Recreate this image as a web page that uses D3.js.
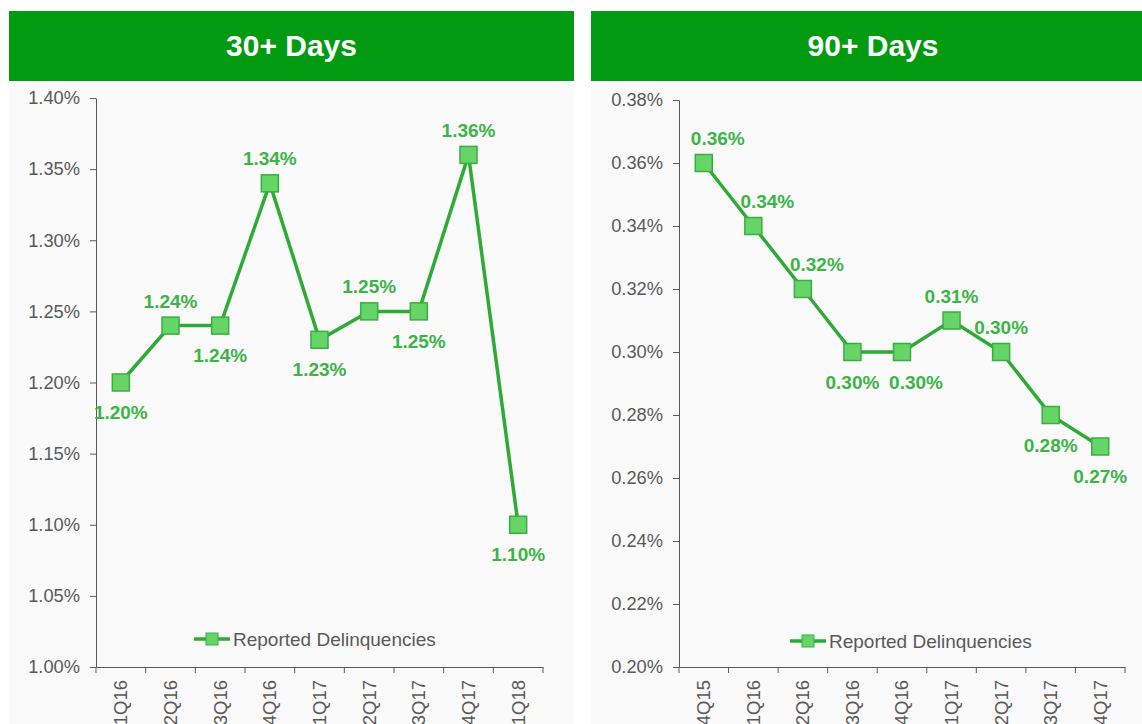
<!DOCTYPE html>
<html><head><meta charset="utf-8">
<script src="https://cdn.jsdelivr.net/npm/d3@7"></script>
<style>
html,body{margin:0;padding:0;background:#fff;overflow:hidden}
text{font-family:"Liberation Sans",Arial,sans-serif}
</style></head>
<body>
<svg id="c" width="1142" height="724"></svg>
<script>
const leftTitle = "30+ Days";
const leftCategories = ["1Q16","2Q16","3Q16","4Q16","1Q17","2Q17","3Q17","4Q17","1Q18"];
const leftValues = [1.20,1.24,1.24,1.34,1.23,1.25,1.25,1.36,1.10];
const leftLabelPos = ["below","above","below","above","below","above","below","above","below"];
const leftTicks = [1.00,1.05,1.10,1.15,1.20,1.25,1.30,1.35,1.40];

const rightTitle = "90+ Days";
const rightCategories = ["4Q15","1Q16","2Q16","3Q16","4Q16","1Q17","2Q17","3Q17","4Q17"];
const rightValues = [0.36,0.34,0.32,0.30,0.30,0.31,0.30,0.28,0.27];
const rightLabelPos = ["above-right","above-right","above-right","below","below-right","above","above","below","below"];
const rightTicks = [0.20,0.22,0.24,0.26,0.28,0.30,0.32,0.34,0.36,0.38];

const seriesName = "Reported Delinquencies";

const svg = d3.select("#c");
const GRAY = "#595959";
const LINE = "#2eaa36";
const MFILL = "#66d466";
const MSTROKE = "#36b042";
const LBL = "#3cb446";
const HEAD = "#019a10";

function panel(cfg){
  const g = svg.append("g");
  g.append("rect").attr("x",cfg.px).attr("y",11).attr("width",cfg.pw).attr("height",724-11).attr("fill","#fafafa");
  g.append("rect").attr("x",cfg.px).attr("y",11).attr("width",cfg.pw).attr("height",70).attr("fill",HEAD);
  g.append("text").attr("x",cfg.px+cfg.pw/2).attr("y",56).attr("text-anchor","middle")
    .attr("fill","#fff").attr("font-size",30).attr("font-weight","bold").text(cfg.title);

  const x = d3.scaleBand().domain(cfg.cats).range([cfg.x0,cfg.x1]).paddingInner(0).paddingOuter(0);
  const y = d3.scaleLinear().domain([cfg.ticks[0],cfg.ticks[cfg.ticks.length-1]]).range([cfg.y0,cfg.y1]);

  const ya = g.append("g").attr("transform",`translate(${cfg.x0},0)`)
    .call(d3.axisLeft(y).tickValues(cfg.ticks).tickSize(6).tickSizeOuter(0).tickPadding(10).tickFormat(d=>d.toFixed(2)+"%"));
  ya.select(".domain").attr("stroke",GRAY);
  ya.selectAll(".tick line").attr("stroke",GRAY);
  ya.selectAll(".tick text").attr("fill",GRAY).attr("font-size",18.3).attr("font-family","Liberation Sans, Arial, sans-serif");

  const xa = g.append("g").attr("transform",`translate(0,${cfg.y0})`)
    .call(d3.axisBottom(x).tickSize(0).tickSizeOuter(0).tickPadding(0));
  xa.select(".domain").attr("stroke",GRAY);
  xa.selectAll(".tick text").attr("fill",GRAY).attr("font-size",18.5)
    .attr("font-family","Liberation Sans, Arial, sans-serif")
    .attr("text-anchor","end").attr("dy","0.35em")
    .attr("transform","translate(0,13) rotate(-90)").attr("y",0).attr("x",0);
  const bounds = cfg.cats.map(c=>x(c)).concat([x(cfg.cats[cfg.cats.length-1])+x.bandwidth()]);
  xa.selectAll("line.bt").data(bounds).enter().append("line").attr("class","bt")
    .attr("x1",d=>d).attr("x2",d=>d).attr("y1",0).attr("y2",6).attr("stroke",GRAY);

  const cx = c => x(c)+x.bandwidth()/2;
  const pts = cfg.cats.map((c,i)=>({c, v:cfg.vals[i], pos:cfg.pos[i]}));

  g.append("path").datum(pts)
    .attr("d", d3.line().x(d=>cx(d.c)).y(d=>y(d.v)))
    .attr("fill","none").attr("stroke",LINE).attr("stroke-width",3.5);

  const ms = 17;
  g.selectAll("rect.m").data(pts).enter().append("rect").attr("class","m")
    .attr("x",d=>cx(d.c)-ms/2).attr("y",d=>y(d.v)-ms/2).attr("width",ms).attr("height",ms)
    .attr("fill",MFILL).attr("stroke",MSTROKE).attr("stroke-width",1.5);

  g.selectAll("text.lbl").data(pts).enter().append("text").attr("class","lbl")
    .attr("x",d=>cx(d.c)+(d.pos.endsWith("-right")?14:0))
    .attr("y",d=>y(d.v)+(d.pos.startsWith("above")?-18:36.5))
    .attr("text-anchor","middle").attr("fill",LBL).attr("font-size",19).attr("font-weight","bold")
    .text(d=>d.v.toFixed(2)+"%");

  const lg = g.append("g").attr("transform",`translate(${cfg.lx},${cfg.ly})`);
  lg.append("line").attr("x1",-18).attr("x2",18).attr("y1",0).attr("y2",0).attr("stroke",LINE).attr("stroke-width",3.5);
  lg.append("rect").attr("x",-6).attr("y",-6).attr("width",12).attr("height",12).attr("fill",MFILL).attr("stroke",MSTROKE).attr("stroke-width",1);
  lg.append("text").attr("x",21).attr("y",6.5).attr("fill",GRAY).attr("font-size",19).text(seriesName);
}

panel({px:9,pw:565,title:leftTitle,cats:leftCategories,vals:leftValues,pos:leftLabelPos,ticks:leftTicks,
  x0:96,x1:543,y0:667,y1:98,lx:212,ly:639});
panel({px:591,pw:564,title:rightTitle,cats:rightCategories,vals:rightValues,pos:rightLabelPos,ticks:rightTicks,
  x0:679,x1:1125,y0:667,y1:100,lx:808,ly:641});
</script>
</body></html>
